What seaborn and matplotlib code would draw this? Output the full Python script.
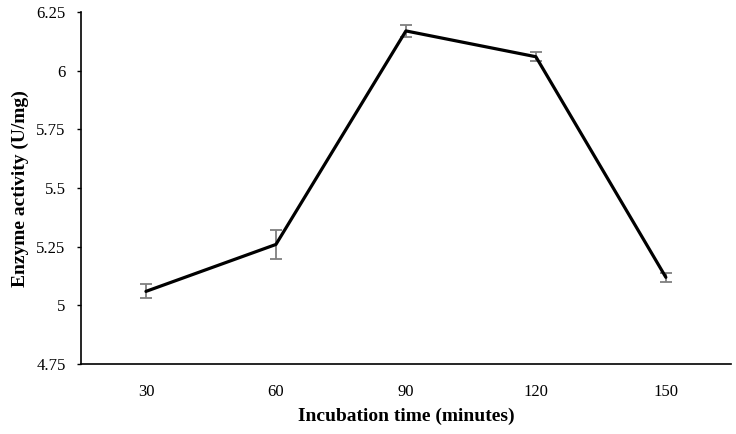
import matplotlib
matplotlib.use("Agg")
import matplotlib.pyplot as plt
import seaborn as sns
import pandas as pd
import numpy as np

times = ["30", "60", "90", "120", "150"]
activity = [5.06, 5.26, 6.17, 6.06, 5.12]
errors = [0.03, 0.06, 0.025, 0.02, 0.02]
yticks = [4.75, 5.0, 5.25, 5.5, 5.75, 6.0, 6.25]
ytick_labels = ["4.75", "5", "5.25", "5.5", "5.75", "6", "6.25"]

sns.set_theme(style="white")
plt.rcParams['font.family'] = ['Liberation Serif', 'DejaVu Serif']

df = pd.DataFrame({"pos": np.arange(len(times)), "activity": activity})

fig = plt.figure(figsize=(7.36, 4.34), dpi=100)
ax = fig.add_axes([0.110, 0.161, 0.883, 0.811])

ax.errorbar(df["pos"], df["activity"], yerr=errors, fmt="none",
            ecolor="#7f7f7f", elinewidth=1.3, capsize=4, capthick=1.3, zorder=2)
sns.lineplot(data=df, x="pos", y="activity", ax=ax, color="black",
             linewidth=2.3, zorder=3)

ax.set_xlim(-0.5, 4.5)
ax.set_ylim(4.75, 6.25)
ax.set_xticks(df["pos"])
ax.set_xticklabels(times)
ax.set_yticks(yticks)
ax.set_yticklabels(ytick_labels)

for s in ["top", "right"]:
    ax.spines[s].set_visible(False)
for s in ["left", "bottom"]:
    ax.spines[s].set_color("black")
    ax.spines[s].set_linewidth(1.2)

ax.tick_params(axis="y", which="both", left=True, length=3, width=1, color="black",
               labelsize=12, labelcolor="black", pad=8)
ax.tick_params(axis="x", bottom=False, labelsize=12, labelcolor="black", pad=8)

ax.set_xlabel("Incubation time (minutes)", fontsize=14, fontweight="bold", color="black", labelpad=6)
ax.set_ylabel("Enzyme activity (U/mg)", fontsize=14, fontweight="bold", color="black", labelpad=5)
ax.grid(False)

fig.savefig("out.png", dpi=100)
